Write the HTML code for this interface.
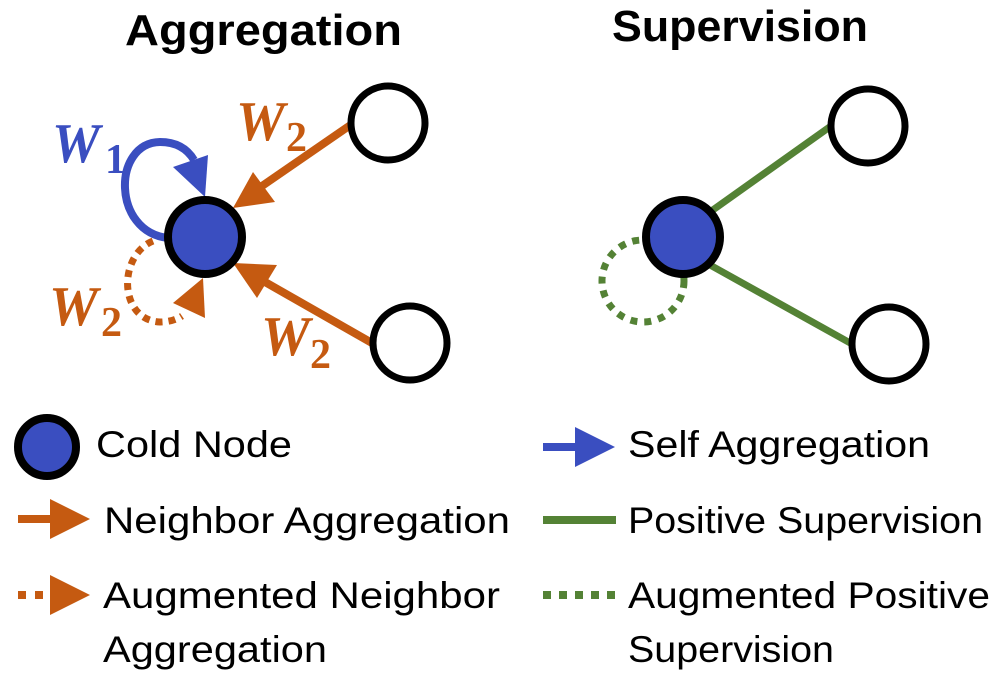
<!DOCTYPE html>
<html><head><meta charset="utf-8"><style>
html,body{margin:0;padding:0;background:#fff;}
svg{display:block;}
.t{font-family:"Liberation Sans",sans-serif;fill:#000;}
.w{font-family:"Liberation Serif",serif;font-weight:bold;font-style:italic;}
.s{font-family:"Liberation Serif",serif;font-weight:bold;font-style:normal;}
</style></head><body>
<svg width="997" height="680" viewBox="0 0 997 680" xmlns="http://www.w3.org/2000/svg">
<text class="t" x="125" y="45" font-size="44" font-weight="bold" textLength="277" lengthAdjust="spacingAndGlyphs">Aggregation</text>
<text class="t" x="612" y="41" font-size="44" font-weight="bold" textLength="256" lengthAdjust="spacingAndGlyphs">Supervision</text>

<line x1="352" y1="124" x2="262" y2="186" stroke="#C55A11" stroke-width="8"/>
<polygon points="233,208 253,172 275,202" fill="#C55A11"/>
<line x1="372" y1="343" x2="265" y2="282" stroke="#C55A11" stroke-width="8"/>
<polygon points="233,263 257,298 277,265" fill="#C55A11"/>
<path d="M168,238 C112,232 112,143 160,142 C178,142 188,150 194,160" fill="none" stroke="#3A4EC0" stroke-width="8"/>
<polygon points="205,197 173,167 208,155" fill="#3A4EC0"/>
<path d="M153,241 C118,255 118,320 160,322 C168,322 176,320 182,316" fill="none" stroke="#C55A11" stroke-width="7" stroke-dasharray="7,6"/>
<polygon points="203,278 173,303 205,318" fill="#C55A11"/>
<circle cx="205" cy="237" r="37" fill="#3A4EC0" stroke="#000" stroke-width="8"/>
<circle cx="388" cy="123" r="37" fill="#fff" stroke="#000" stroke-width="7"/>
<circle cx="410" cy="343" r="37" fill="#fff" stroke="#000" stroke-width="7"/>

<text class="w" x="52" y="162" font-size="56" fill="#3A4EC0" textLength="48" lengthAdjust="spacingAndGlyphs">W</text>
<text class="s" x="105" y="173" font-size="42" fill="#3A4EC0">1</text>
<text class="w" x="236" y="140" font-size="56" fill="#C55A11" textLength="49" lengthAdjust="spacingAndGlyphs">W</text>
<text class="s" x="286" y="151" font-size="42" fill="#C55A11">2</text>
<text class="w" x="49" y="325" font-size="56" fill="#C55A11" textLength="49" lengthAdjust="spacingAndGlyphs">W</text>
<text class="s" x="101" y="336" font-size="42" fill="#C55A11">2</text>
<text class="w" x="261" y="355" font-size="56" fill="#C55A11" textLength="49" lengthAdjust="spacingAndGlyphs">W</text>
<text class="s" x="310" y="368" font-size="42" fill="#C55A11">2</text>

<circle cx="643" cy="281" r="41" fill="none" stroke="#548235" stroke-width="7" stroke-dasharray="7,7"/>
<line x1="710" y1="212" x2="831" y2="126" stroke="#548235" stroke-width="7"/>
<line x1="710" y1="265" x2="852" y2="344" stroke="#548235" stroke-width="7"/>
<circle cx="683" cy="237" r="37" fill="#3A4EC0" stroke="#000" stroke-width="8"/>
<circle cx="868" cy="126" r="37" fill="#fff" stroke="#000" stroke-width="7"/>
<circle cx="889" cy="344" r="37" fill="#fff" stroke="#000" stroke-width="7"/>

<circle cx="47" cy="447" r="29" fill="#3A4EC0" stroke="#000" stroke-width="8"/>
<text class="t" x="96" y="457" font-size="37" textLength="196" lengthAdjust="spacingAndGlyphs">Cold Node</text>

<line x1="18" y1="519" x2="52" y2="519" stroke="#C55A11" stroke-width="8"/>
<polygon points="50,499 90,519 50,539" fill="#C55A11"/>
<text class="t" x="104" y="533" font-size="37" textLength="406" lengthAdjust="spacingAndGlyphs">Neighbor Aggregation</text>

<rect x="18" y="591" width="8" height="8" fill="#C55A11"/>
<rect x="35" y="591" width="8" height="8" fill="#C55A11"/>
<polygon points="50,575 90,595 50,615" fill="#C55A11"/>
<text class="t" x="103" y="608" font-size="37" textLength="397" lengthAdjust="spacingAndGlyphs">Augmented Neighbor</text>
<text class="t" x="103" y="662" font-size="37" textLength="224" lengthAdjust="spacingAndGlyphs">Aggregation</text>

<line x1="543" y1="447" x2="577" y2="447" stroke="#3A4EC0" stroke-width="8"/>
<polygon points="575,427 615,447 575,467" fill="#3A4EC0"/>
<text class="t" x="628" y="457" font-size="37" textLength="302" lengthAdjust="spacingAndGlyphs">Self Aggregation</text>

<line x1="543" y1="520" x2="616" y2="520" stroke="#548235" stroke-width="8"/>
<text class="t" x="628" y="533" font-size="37" textLength="355" lengthAdjust="spacingAndGlyphs">Positive Supervision</text>

<line x1="543" y1="595" x2="616" y2="595" stroke="#548235" stroke-width="8" stroke-dasharray="8,8"/>
<text class="t" x="628" y="608" font-size="37" textLength="362" lengthAdjust="spacingAndGlyphs">Augmented Positive</text>
<text class="t" x="628" y="662" font-size="37" textLength="206" lengthAdjust="spacingAndGlyphs">Supervision</text>
</svg>
</body></html>
